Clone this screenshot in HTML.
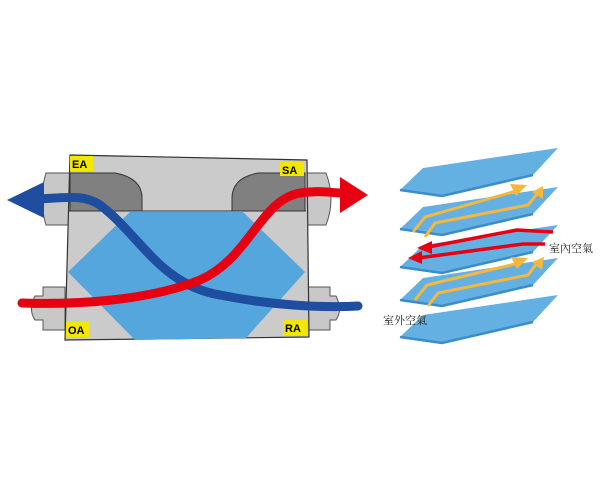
<!DOCTYPE html>
<html><head><meta charset="utf-8"><style>html,body{margin:0;padding:0;background:#fff}svg{display:block}</style></head>
<body>
<svg width="600" height="480" viewBox="0 0 600 480" xmlns="http://www.w3.org/2000/svg">
<defs>
<g id="plate">
<polygon points="400,190 423,168 558,148 533,175 442,196" fill="#64b0e2"/>
<polyline points="400,190 442,196 533,175" fill="none" stroke="#3a8ccb" stroke-width="2.5"/>
</g>
</defs>
<!-- left unit -->
<path d="M70,173 L46,173 Q38,199 46,225 L70,225 Z" fill="#c8c8c8" stroke="#555" stroke-width="1"/>
<path d="M305,173 L326,173 Q336,199 326,225 L305,225 Z" fill="#c8c8c8" stroke="#555" stroke-width="1"/>
<path d="M65,287 L43,287 L43,296 L35,296 Q28,310 35,320 L43,320 L43,330 L65,330 Z" fill="#c8c8c8" stroke="#555" stroke-width="1"/>
<path d="M308,287 L330,287 L330,296 L336,296 Q343,310 336,320 L330,320 L330,330 L308,330 Z" fill="#c8c8c8" stroke="#555" stroke-width="1"/>
<polygon points="70,155 307,160 309,337 65,340" fill="#cbcbcb" stroke="#333" stroke-width="1.2"/>
<line x1="69" y1="211" x2="306" y2="211" stroke="#333" stroke-width="1"/>
<path d="M70,173 L115,173 Q142,178 142,198 L142,211 L70,211 Z" fill="#808080" stroke="#333" stroke-width="1"/>
<path d="M305,173 L258,173 Q232,178 232,198 L232,211 L305,211 Z" fill="#808080" stroke="#333" stroke-width="1"/>
<polygon points="130,212 243,212 305,272 246,338 135,340 68,272" fill="#55a6dc"/>
<rect x="70" y="156" width="23" height="15" fill="#f5e600"/>
<text x="72" y="168" font-family="Liberation Sans,sans-serif" font-weight="bold" font-size="11">EA</text>
<rect x="280" y="162" width="24" height="14" fill="#f5e600"/>
<text x="282" y="174" font-family="Liberation Sans,sans-serif" font-weight="bold" font-size="11">SA</text>
<rect x="66" y="322" width="23" height="15" fill="#f5e600"/>
<text x="68" y="334" font-family="Liberation Sans,sans-serif" font-weight="bold" font-size="11">OA</text>
<rect x="283" y="320" width="24" height="15" fill="#f5e600"/>
<text x="285" y="332" font-family="Liberation Sans,sans-serif" font-weight="bold" font-size="11">RA</text>
<!-- blue -->
<path d="M40,199 C70,197 85,195 100,205 C140,235 160,285 220,295 C270,305 320,308 358,306" fill="none" stroke="#1f4ea0" stroke-width="9" stroke-linecap="round"/>
<polygon points="7,200 44,182 44,218" fill="#1f4ea0"/>
<!-- red -->
<path d="M22,303 C80,305 150,300 200,280 C250,258 260,200 300,193 C320,190 332,193 342,193" fill="none" stroke="#e60012" stroke-width="9" stroke-linecap="round"/>
<polygon points="368,195 340,177 340,213" fill="#e60012"/>
<!-- right plates -->
<use href="#plate"/>
<use href="#plate" y="39"/>
<use href="#plate" y="77"/>
<use href="#plate" y="110"/>
<use href="#plate" y="147"/>
<g fill="none" stroke="#f6b83c" stroke-width="3">
<polyline points="413,232 425,217 516,191"/>
<polyline points="425,237 435,223 528,205 538,193"/>
<polyline points="415,300 427,285 515,264"/>
<polyline points="428,306 438,293 528,275 538,262"/>
</g>
<g fill="#f6b83c">
<polygon points="527,185 510,184 516,196"/>
<polygon points="543,186 532,192 543,199"/>
<polygon points="528,258 511,257 517,269"/>
<polygon points="544,257 532,262 542,270"/>
</g>
<g fill="none" stroke="#e60012" stroke-width="3.5">
<polyline points="553,232 517,230 428,247"/>
<polyline points="545,244 523,244 418,258"/>
</g>
<g fill="#e60012">
<polygon points="417,248 432,241 432,254"/>
<polygon points="408,258 422,251 422,264"/>
</g>
<rect x="548" y="240" width="50" height="16" fill="#fff"/>
<text x="549" y="252" font-family="Liberation Serif,Noto Serif CJK SC,serif" font-size="11" fill="#222">室內空氣</text>
<text x="383" y="324" font-family="Liberation Serif,Noto Serif CJK SC,serif" font-size="11" fill="#222">室外空氣</text>
</svg>
</body></html>
